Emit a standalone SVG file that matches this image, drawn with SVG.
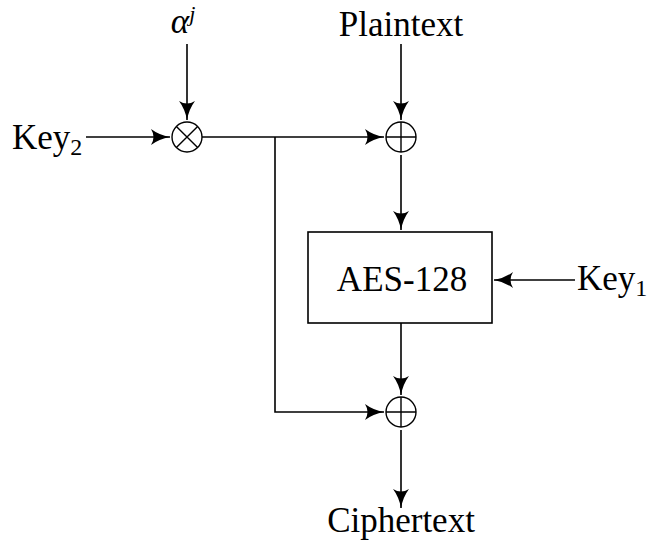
<svg xmlns="http://www.w3.org/2000/svg" width="648" height="544" viewBox="0 0 648 544">
<style>
.t{font-family:"Liberation Serif","DejaVu Serif",serif;font-size:35px;fill:#000}
.ln{fill:none;stroke:#000;stroke-width:1.6}
.op{fill:none;stroke:#000;stroke-width:1.4}
</style>
<defs>
<marker id="a" viewBox="0 0 20 16" refX="19" refY="8" markerWidth="20" markerHeight="16" markerUnits="userSpaceOnUse" orient="auto">
<path d="M0,0 Q8,6 19,8 Q8,10 0,16 Q5,8 0,0 Z" fill="#000"/>
</marker>
</defs>
<rect width="648" height="544" fill="#fff"/>
<g id="alpha"><text class="t" x="183" y="33" text-anchor="middle" font-style="italic" font-size="32">α<tspan font-size="22" dy="-12">j</tspan></text></g>
<g id="key2"><text class="t" x="12" y="149">Key<tspan font-size="24" dy="6">2</tspan></text></g>
<g id="plaintext"><text class="t" x="401" y="36" text-anchor="middle">Plaintext</text></g>
<g id="mul"><circle class="op" cx="187" cy="137" r="15"/><path class="op" d="M176.4,126.4L197.6,147.6M197.6,126.4L176.4,147.6"/></g>
<g id="xor1"><circle class="op" cx="401" cy="137" r="15"/><path class="op" d="M386,137H416M401,122V152"/></g>
<g id="aes"><rect class="ln" x="308" y="232" width="184" height="91"/><text class="t" x="402" y="291" text-anchor="middle">AES-128</text></g>
<g id="key1"><text class="t" x="577" y="290">Key<tspan font-size="24" dy="6">1</tspan></text></g>
<g id="xor2"><circle class="op" cx="401" cy="412" r="15"/><path class="op" d="M386,412H416M401,397V427"/></g>
<g id="ciphertext"><text class="t" x="401" y="532" text-anchor="middle">Ciphertext</text></g>
<g id="connectors">
<path class="ln" d="M187,44V120" marker-end="url(#a)"/>
<path class="ln" d="M86,137H170" marker-end="url(#a)"/>
<path class="ln" d="M202,137H384" marker-end="url(#a)"/>
<path class="ln" d="M401,44V120" marker-end="url(#a)"/>
<path class="ln" d="M401,155V230" marker-end="url(#a)"/>
<path class="ln" d="M575,280H494" marker-end="url(#a)"/>
<path class="ln" d="M401,323V395" marker-end="url(#a)"/>
<path class="ln" d="M275,137V412H384" marker-end="url(#a)"/>
<path class="ln" d="M401,430V508" marker-end="url(#a)"/>
</g>
</svg>
